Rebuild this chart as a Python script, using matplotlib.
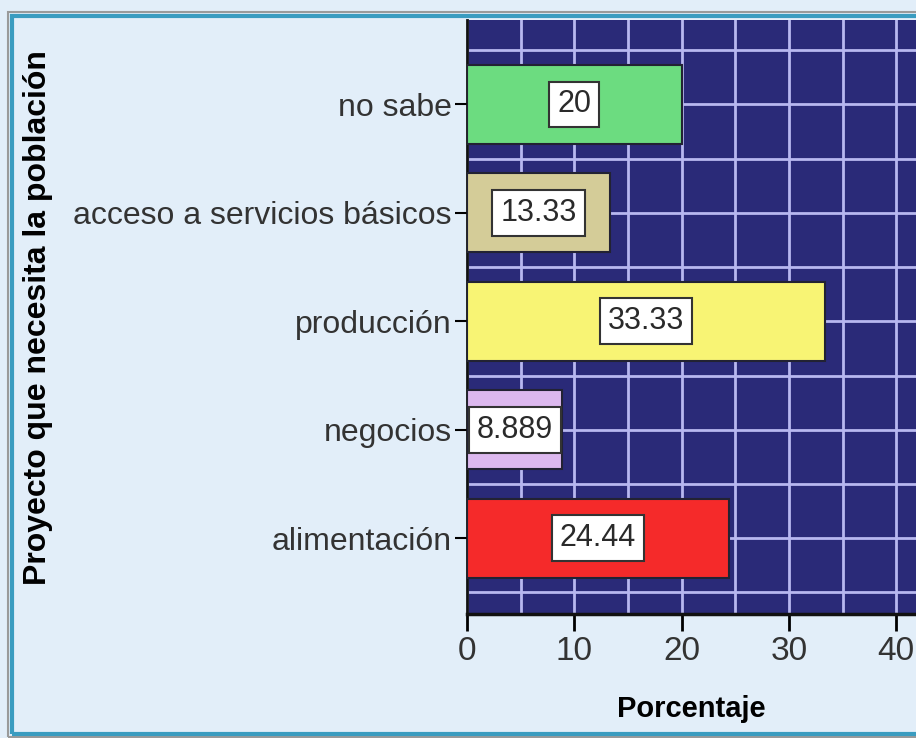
import matplotlib.pyplot as plt
from matplotlib.patches import Rectangle
from matplotlib.ticker import MultipleLocator

# datos
categorias = ["alimentación", "negocios", "producción", "acceso a servicios básicos", "no sabe"]
porcentajes = [24.44, 8.889, 33.33, 13.33, 20.0]
etiquetas = ["24.44", "8.889", "33.33", "13.33", "20"]
colores = ["#f52a2a", "#dcb8ee", "#f8f474", "#d4cc98", "#6cdc80"]

fig = plt.figure(figsize=(9.16, 7.38), dpi=100)
fig.patch.set_facecolor("#e2eef9")
plt.rcParams["font.family"] = ["Liberation Sans", "DejaVu Sans"]

# marco exterior
fig.add_artist(Rectangle((0.009, 0.002), 0.995, 0.982, transform=fig.transFigure,
                         fill=False, edgecolor="#9a9a9a", lw=1.5))
fig.add_artist(Rectangle((0.013, 0.006), 0.995, 0.972, transform=fig.transFigure,
                         fill=False, edgecolor="#3a9cc0", lw=3))

ax = fig.add_axes([0.5098, 0.168, 0.4902, 0.805])
ax.set_facecolor("#2a2a78")

ypos = list(range(len(categorias)))
ax.barh(ypos, porcentajes, height=0.73, color=colores, edgecolor="#222233", lw=1.5, zorder=3)

for y, v, t in zip(ypos, porcentajes, etiquetas):
    ax.text(v / 2, y, t, ha="center", va="center", fontsize=22, color="#2a2a2a", zorder=4,
            bbox=dict(boxstyle="square,pad=0.26", fc="white", ec="#333333", lw=1.5))

ax.set_xlim(0, 41.85)
ax.set_ylim(-0.7, 4.78)
ax.xaxis.set_major_locator(MultipleLocator(10))
ax.xaxis.set_minor_locator(MultipleLocator(5))
ax.yaxis.set_major_locator(MultipleLocator(1))
ax.yaxis.set_minor_locator(MultipleLocator(0.5))
ax.set_yticks(ypos)
ax.set_yticklabels(categorias)
ax.grid(True, which="both", color="#b8b8f0", lw=2, zorder=1)
ax.set_axisbelow(True)

ax.tick_params(axis="x", which="major", direction="out", length=12, width=2, labelsize=24,
               labelcolor="#333333", pad=4)
ax.tick_params(axis="x", which="minor", length=0)
ax.tick_params(axis="y", which="major", direction="out", length=9, width=1.5, labelsize=23,
               labelcolor="#333333", pad=2)
ax.tick_params(axis="y", which="minor", length=0)

for s in ["top", "right"]:
    ax.spines[s].set_visible(False)
ax.spines["left"].set_linewidth(2)
ax.spines["bottom"].set_linewidth(2.5)
ax.spines["left"].set_color("#111111")
ax.spines["bottom"].set_color("#111111")

ax.set_xlabel("Porcentaje", fontsize=21, fontweight="bold", labelpad=20)
fig.text(0.041, 0.57, "Proyecto que necesita la población", rotation=90, ha="center",
         va="center", fontsize=23, fontweight="bold")

fig.savefig("out.png", dpi=100, facecolor=fig.get_facecolor())
